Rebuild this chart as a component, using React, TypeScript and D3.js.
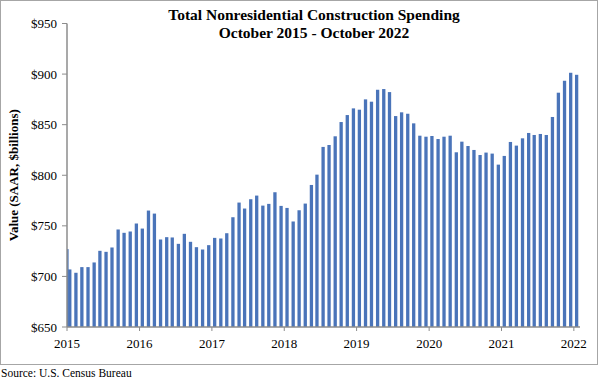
import React from "react";
import * as d3 from "d3";

const title1 = "Total Nonresidential Construction Spending";
const title2 = "October 2015 - October 2022";
const yLabel = "Value (SAAR, $billions)";
const source = "Source:  U.S. Census Bureau";

// Monthly values starting Sep 2015 (first partially hidden at the axis), through Oct 2022
const startYear = 2015;
const startMonth = 8; // September (0-based)
const values = [
  727,
  706.9, 703.6, 709.2, 709.2, 713.8, 725.3, 724.3, 728.6, 746.4, 743.1, 744.4, 752.3,
  747.3, 765.1, 762.1, 736.5, 738.8, 738.5, 732.2, 742.1, 734.2, 728.9, 726.6, 730.9,
  738.1, 737.5, 742.7, 758.5, 773.0, 767.1, 776.3, 779.9, 770.0, 771.7, 783.2, 769.7,
  767.7, 754.3, 765.4, 772.0, 790.4, 800.6, 828.0, 829.9, 838.5, 852.6, 859.5, 866.1,
  864.8, 875.0, 872.7, 884.5, 885.2, 882.2, 858.5, 862.2, 860.8, 851.3, 839.1, 838.1,
  838.8, 835.8, 838.1, 839.1, 822.7, 833.2, 828.9, 825.0, 820.0, 822.4, 821.4, 810.5,
  819.1, 832.9, 829.3, 836.5, 841.8, 839.8, 840.8, 839.8, 857.6, 881.6, 893.4, 901.3,
  899.3,
];
const yTicks = [650, 700, 750, 800, 850, 900, 950];
const yearTicks = [2015, 2016, 2017, 2018, 2019, 2020, 2021, 2022];

const W = 600;
const H = 382;
const plotLeft = 67;
const plotRight = 580;
const plotTop = 23.5;
const plotBottom = 327;
const font = "'Liberation Serif', 'Times New Roman', serif";
const barColor = "#4a74b9";
const axisColor = "#8c8c8c";

export default function App() {
  const dates = values.map((_, i) => new Date(startYear, startMonth + i, 15));
  const x = d3
    .scaleTime()
    .domain([new Date(2015, 9, 1), new Date(2022, 10, 1)])
    .range([plotLeft, plotRight]);
  const y = d3.scaleLinear().domain([650, 950]).range([plotBottom, plotTop]);
  const bw = 3.3;

  const bars = values.map((v, i) => {
    const cx = x(dates[i]);
    let left = cx - bw / 2;
    let right = cx + bw / 2;
    if (left < plotLeft) {
      left = plotLeft;
      right = Math.max(right, plotLeft + 1.6);
    }
    return (
      <rect
        key={i}
        x={left}
        y={y(v)}
        width={right - left}
        height={plotBottom - y(v)}
        fill={barColor}
      />
    );
  });

  return (
    <svg
      width={W}
      height={H}
      style={{ position: "absolute", left: 0, top: 0, background: "#fff" }}
    >
      <rect x={0.5} y={0.5} width={597} height={364} fill="#fff" stroke="#a6a6a6" />
      <text x={314} y={20} textAnchor="middle" fontFamily={font} fontWeight="bold" fontSize={15.5}>
        {title1}
      </text>
      <text x={314} y={37.5} textAnchor="middle" fontFamily={font} fontWeight="bold" fontSize={15.5}>
        {title2}
      </text>

      {bars}

      {/* y axis */}
      <line x1={plotLeft} x2={plotLeft} y1={plotTop} y2={plotBottom} stroke={axisColor} strokeWidth={1.5} />
      {yTicks.map((t) => (
        <g key={t}>
          <line x1={plotLeft - 5} x2={plotLeft} y1={y(t)} y2={y(t)} stroke={axisColor} />
          <text x={57} y={y(t) + 4.5} textAnchor="end" fontFamily={font} fontSize={13}>
            ${t}
          </text>
        </g>
      ))}
      <text
        transform={`translate(18,${(plotTop + plotBottom) / 2}) rotate(-90)`}
        textAnchor="middle"
        fontFamily={font}
        fontWeight="bold"
        fontSize={13}
      >
        {yLabel}
      </text>

      {/* x axis */}
      <line x1={plotLeft} x2={plotRight} y1={plotBottom} y2={plotBottom} stroke={axisColor} strokeWidth={1.5} />
      {yearTicks.map((yr) => {
        const px = x(new Date(yr, 9, 1));
        return (
          <g key={yr}>
            <line x1={px} x2={px} y1={plotBottom} y2={plotBottom + 4} stroke={axisColor} />
            <text x={px} y={348} textAnchor="middle" fontFamily={font} fontSize={13}>
              {yr}
            </text>
          </g>
        );
      })}

      <text x={1} y={377} fontFamily={font} fontSize={11.5}>
        {source}
      </text>
    </svg>
  );
}
